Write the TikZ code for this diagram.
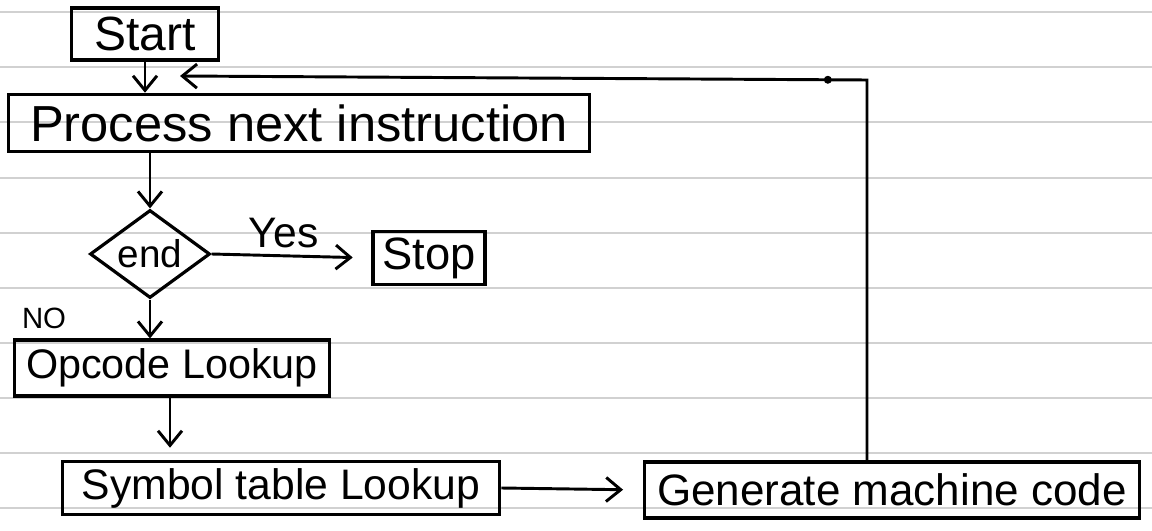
\documentclass[tikz,border=0pt]{standalone}
\usepackage{fontspec}
\setmainfont{Liberation Sans}
\usetikzlibrary{shapes.geometric,arrows.meta,calc}

\tikzset{every picture/.style={line width=0.75pt}}
\tikzset{
  stepbox/.style={draw, line width=2.4pt, inner sep=0pt},
  decision/.style={draw, diamond, line width=2.4pt, inner sep=0pt, aspect=1.36},
  flow/.style={line width=2.2pt, -{Straight Barb[length=11pt,width=18pt,line width=2.2pt]}},
  ruled/.style={draw=black!18, line width=0.9pt},
  hand/.style={font=\fontsize{#1}{#1}\selectfont}
}

\begin{document}
\begin{tikzpicture}[x=0.75pt,y=0.75pt,yscale=-1,xscale=1]
	\useasboundingbox (0,0) rectangle (1152,531);
	%Ruled paper lines
	\foreach \ly in {12,67,122,178,233,288,343,398,453,508}
		\draw [ruled] (0,\ly) -- (1152,\ly);

	% Text Node
	\node [stepbox, hand=36, minimum width=110pt, minimum height=39pt] (start) at (145,34) {Start};
	% Text Node
	\node [stepbox, hand=38, minimum width=436pt, minimum height=43pt] (process) at (299,123) {Process next instruction};
	% Shape: Diamond
	\node [decision, minimum width=90pt, minimum height=66pt] (endq) at (150,254) {};
	\node [hand=29] (endlbl) at (endq) {end};
	% Text Node
	\node [stepbox, hand=34, minimum width=84pt, minimum height=40pt] (stop) at (429,258) {Stop};
	% Text Node
	\node [stepbox, hand=31, minimum width=236pt, minimum height=42pt] (opcode) at (172,368) {Opcode Lookup};
	% Text Node
	\node [stepbox, hand=32, minimum width=328pt, minimum height=40pt] (symtab) at (281,488) {Symbol table Lookup};
	% Text Node
	\node [stepbox, hand=33, minimum width=371pt, minimum height=42pt] (gencode) at (892,490) {Generate machine code};
	% Text Node
	\node [hand=22] (nolbl) at (44,318) {NO};

	%Straight Lines
	\draw [flow] (start.south) -- (start.south |- process.north);
	%Straight Lines
	\draw [flow] (endq.north |- process.south) -- (endq.north);
	%Straight Lines
	\draw [flow, shorten >=14pt] (endq.east) -- node [above, hand=32, inner sep=5pt, xshift=-6pt] (yeslbl) {Yes} (stop.west);
	%Straight Lines
	\draw [flow] (endq.south) -- (endq.south |- opcode.north);
	%Straight Lines
	\draw [flow, shorten >=9pt] ($(opcode.south)+(-2,0)$) -- ($(symtab.north)+(-111,0)$);
	%Straight Lines
	\draw [flow, shorten >=15pt] (symtab.east) -- (gencode.west);
	%Feedback line
	\coordinate (corner) at (867,80);
	\coordinate (backin) at (180,76);
	\draw [flow] (gencode.north -| corner) -- (corner) -- (backin);
	\fill ($(backin)!0.943!(corner)$) circle (4);
\end{tikzpicture}
\end{document}
